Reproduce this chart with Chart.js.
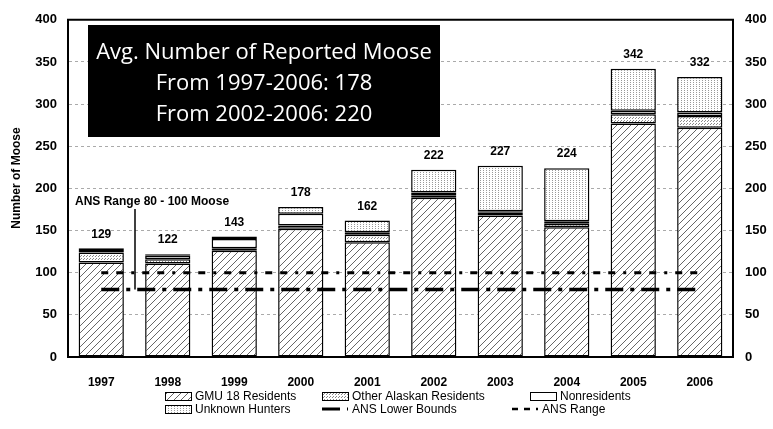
<!DOCTYPE html>
<html>
<head>
<meta charset="utf-8">
<script src="https://cdn.jsdelivr.net/npm/chart.js@4.4.1/dist/chart.umd.min.js"></script>
<style>
  html, body { margin: 0; padding: 0; background: #fff; }
</style>
</head>
<body>
<canvas id="chart" width="773" height="429"></canvas>
<script>
// ── Data ───────────────────────────────────────────
const years    = ['1997', '1998', '1999', '2000', '2001', '2002', '2003', '2004', '2005', '2006'];
const gmu18    = [112, 111, 126, 152, 136, 189, 168, 154, 277, 272];
const otherAk  = [12, 5, 3, 4, 9, 3, 3, 4, 11, 14];
const nonres   = [3, 4, 11, 14, 3, 3, 2, 3, 4, 4];
const unknown  = [2, 2, 3, 8, 14, 27, 54, 63, 50, 42];
const totals   = [129, 122, 143, 178, 162, 222, 227, 224, 342, 332];
const ansRange = [100, 100, 100, 100, 100, 100, 100, 100, 100, 100];
const ansLower = [80, 80, 80, 80, 80, 80, 80, 80, 80, 80];
const yTicks   = [0, 50, 100, 150, 200, 250, 300, 350, 400];
const boxLines = ['Avg. Number of Reported Moose', 'From 1997-2006: 178', 'From 2002-2006: 220'];

const FONT = "'Liberation Sans', Arial, sans-serif";
const RANGE_DASH = [7, 8, 7, 8, 3, 8];
const LOWER_DASH = [18, 7, 4, 7];

// ── Fill patterns ──────────────────────────────────
function makePattern(kind) {
  const p = document.createElement('canvas');
  const w = kind === 'hatch' ? 7 : 3;
  const h = kind === 'hatch' ? 7 : (kind === 'dots' ? 2 : 3);
  p.width = w; p.height = h;
  const g = p.getContext('2d');
  g.fillStyle = '#fff';
  g.fillRect(0, 0, w, h);
  if (kind === 'hatch') {
    g.strokeStyle = '#666';
    g.lineWidth = 1;
    g.beginPath();
    g.moveTo(-1, h + 1); g.lineTo(w + 1, -1);
    g.moveTo(-1, 1); g.lineTo(1, -1);
    g.moveTo(w - 1, h + 1); g.lineTo(w + 1, h - 1);
    g.stroke();
  } else if (kind === 'dense') {
    g.fillStyle = '#8a8a8a';
    g.fillRect(0, 0, 1, 1);
    g.fillRect(2, 1, 1, 1);
  } else if (kind === 'dots') {
    g.fillStyle = '#999';
    g.fillRect(0, 0, 1, 1);
  }
  return document.createElement('canvas').getContext('2d').createPattern(p, 'repeat');
}

const hatch = makePattern('hatch');
const dense = makePattern('dense');
const dots  = makePattern('dots');

// ── Extra drawing: frame, totals, note, text box, legend ──
const decor = {
  id: 'decor',
  afterDraw(chart) {
    const { ctx, chartArea: a } = chart;
    ctx.save();

    // top frame line
    ctx.strokeStyle = '#000';
    ctx.lineWidth = 2;
    ctx.beginPath();
    ctx.moveTo(a.left - 1, a.top);
    ctx.lineTo(a.right + 1, a.top);
    ctx.stroke();

    // y axis title
    ctx.save();
    ctx.translate(17, 178);
    ctx.rotate(-Math.PI / 2);
    ctx.fillStyle = '#000';
    ctx.font = 'bold 12px ' + FONT;
    ctx.textAlign = 'center';
    ctx.textBaseline = 'middle';
    ctx.fillText('Number of Moose', 0, 0);
    ctx.restore();

    // totals above bars
    const top = chart.getDatasetMeta(3);
    ctx.fillStyle = '#000';
    ctx.font = 'bold 12px ' + FONT;
    ctx.textAlign = 'center';
    ctx.textBaseline = 'middle';
    top.data.forEach((bar, i) => {
      ctx.fillText(String(totals[i]), bar.x, bar.y - 14);
    });

    // ANS note with leader line
    const y = chart.scales.y;
    ctx.textAlign = 'left';
    ctx.fillText('ANS Range 80 - 100 Moose', 75, 202);
    ctx.lineWidth = 1.5;
    ctx.beginPath();
    ctx.moveTo(135, 209);
    ctx.lineTo(135, y.getPixelForValue(80));
    ctx.stroke();

    // black text box
    ctx.fillStyle = '#000';
    ctx.fillRect(88, 25, 352, 112);
    ctx.fillStyle = '#fff';
    ctx.font = "22px 'Open Sans', sans-serif";
    ctx.textAlign = 'center';
    ctx.textBaseline = 'alphabetic';
    boxLines.forEach((t, i) => ctx.fillText(t, 264, 59 + i * 31));

    // legend
    ctx.font = '12px ' + FONT;
    ctx.textBaseline = 'middle';
    ctx.textAlign = 'left';
    const boxItems = [
      { x: 165, y: 396, fill: hatch, label: 'GMU 18 Residents' },
      { x: 322, y: 396, fill: dense, label: 'Other Alaskan Residents' },
      { x: 530, y: 396, fill: '#fff', label: 'Nonresidents' },
      { x: 165, y: 409, fill: dots,  label: 'Unknown Hunters' },
    ];
    boxItems.forEach(it => {
      ctx.fillStyle = it.fill;
      ctx.fillRect(it.x, it.y - 4, 26, 8);
      ctx.strokeStyle = '#000';
      ctx.lineWidth = 1;
      ctx.strokeRect(it.x + 0.5, it.y - 3.5, 26, 8);
      ctx.fillStyle = '#000';
      ctx.fillText(it.label, it.x + 30, it.y + 1);
    });
    const lineItems = [
      { x: 322, y: 409, dash: LOWER_DASH, w: 3, label: 'ANS Lower Bounds' },
      { x: 512, y: 409, dash: [6, 6, 6, 6, 3, 6], w: 2.5, label: 'ANS Range' },
    ];
    lineItems.forEach(it => {
      ctx.strokeStyle = '#000';
      ctx.lineWidth = it.w;
      ctx.setLineDash(it.dash);
      ctx.beginPath();
      ctx.moveTo(it.x, it.y);
      ctx.lineTo(it.x + 26, it.y);
      ctx.stroke();
      ctx.setLineDash([]);
      ctx.fillText(it.label, it.x + 30, it.y + 1);
    });

    ctx.restore();
  }
};

// ── Chart ──────────────────────────────────────────
const barDefaults = {
  type: 'bar',
  borderColor: '#000',
  borderWidth: 1.5,
  borderSkipped: false,
  barPercentage: 0.68,
  categoryPercentage: 1,
  yAxisID: 'y',
  order: 1,
};

new Chart(document.getElementById('chart'), {
  type: 'bar',
  data: {
    labels: years,
    datasets: [
      { ...barDefaults, label: 'GMU 18 Residents', data: gmu18, backgroundColor: hatch },
      { ...barDefaults, label: 'Other Alaskan Residents', data: otherAk, backgroundColor: dense },
      { ...barDefaults, label: 'Nonresidents', data: nonres, backgroundColor: '#fff' },
      { ...barDefaults, label: 'Unknown Hunters', data: unknown, backgroundColor: dots },
      { type: 'line', label: 'ANS Range', data: ansRange, yAxisID: 'y1', order: 0,
        borderColor: '#000', borderWidth: 3, borderDash: RANGE_DASH, pointRadius: 0, fill: false },
      { type: 'line', label: 'ANS Lower Bounds', data: ansLower, yAxisID: 'y1', order: 0,
        borderColor: '#000', borderWidth: 3.5, borderDash: LOWER_DASH, pointRadius: 0, fill: false },
    ]
  },
  options: {
    responsive: false,
    animation: false,
    devicePixelRatio: 1,
    layout: { padding: { top: 15, left: 0, right: 0, bottom: 0 } },
    plugins: { legend: { display: false }, tooltip: { enabled: false } },
    scales: {
      x: {
        stacked: true,
        grid: { display: false, drawTicks: false },
        border: { color: '#000', width: 2 },
        ticks: { color: '#000', padding: 18, font: { family: FONT, size: 12, weight: 'bold' } },
        afterFit: s => { s.height = 72; }
      },
      y: {
        stacked: true,
        min: 0, max: 400,
        afterBuildTicks: s => { s.ticks = yTicks.map(v => ({ value: v })); },
        grid: { color: '#aaa', lineWidth: 1, drawTicks: false },
        border: { color: '#000', width: 2, dash: [3, 3] },
        ticks: { color: '#000', padding: 11, font: { family: FONT, size: 13, weight: 'bold' } },
        afterFit: s => { s.width = 68; }
      },
      y1: {
        position: 'right',
        min: 0, max: 400,
        afterBuildTicks: s => { s.ticks = yTicks.map(v => ({ value: v })); },
        grid: { display: false, drawTicks: false },
        border: { color: '#000', width: 2 },
        ticks: { color: '#000', padding: 12, font: { family: FONT, size: 13, weight: 'bold' } },
        afterFit: s => { s.width = 40; }
      }
    }
  },
  plugins: [decor]
});
</script>
</body>
</html>
